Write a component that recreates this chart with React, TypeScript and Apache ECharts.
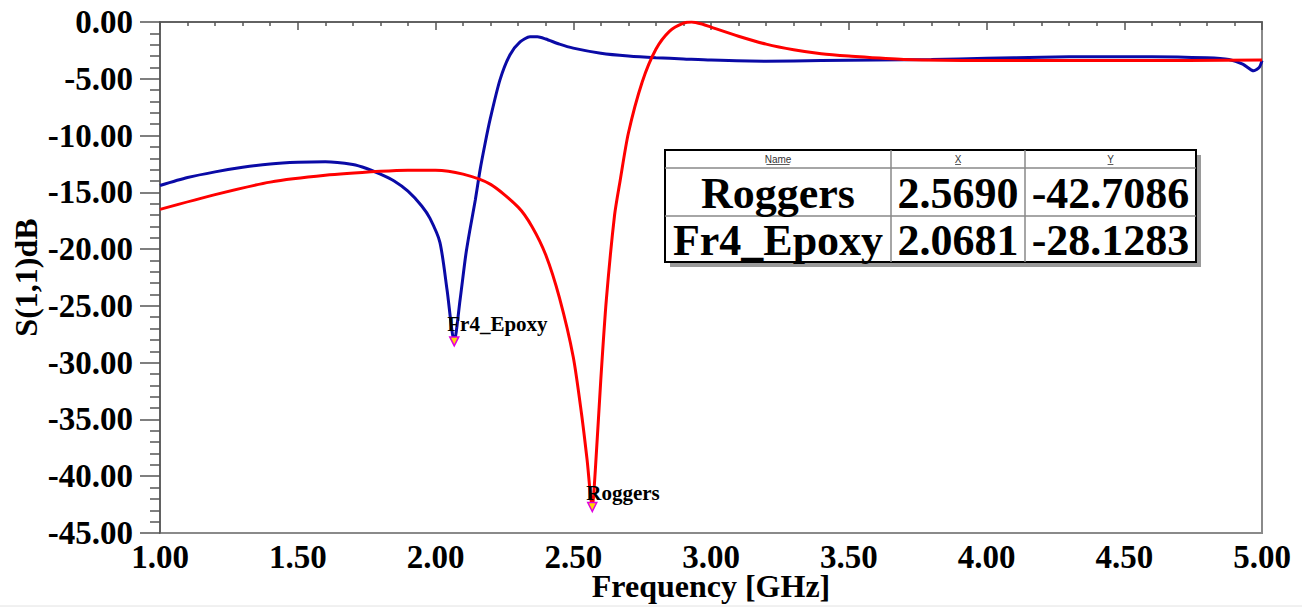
import React, { useEffect, useRef } from "react";
import * as echarts from "echarts";

// Fr4_Epoxy (blue) S(1,1) in dB vs frequency in GHz
const fr4Freq = [1.0, 1.1, 1.2, 1.3, 1.4, 1.5, 1.6, 1.7, 1.75, 1.8, 1.85, 1.9, 1.95, 1.98, 2.016, 2.042, 2.068, 2.089, 2.11, 2.125, 2.145, 2.162, 2.18, 2.198, 2.234, 2.27, 2.307, 2.343, 2.37, 2.4, 2.45, 2.5, 2.6, 2.7, 2.8, 2.9, 3.0, 3.2, 3.4, 3.6, 3.8, 4.0, 4.2, 4.4, 4.6, 4.8, 4.88, 4.93, 4.97, 4.99, 5.0];
const fr4Db = [-14.4, -13.7, -13.2, -12.8, -12.5, -12.35, -12.3, -12.55, -12.9, -13.4, -14.0, -14.9, -16.2, -17.3, -19.4, -23.6, -28.13, -24.5, -20.5, -18.3, -15.6, -13.0, -10.7, -8.6, -5.1, -2.9, -1.76, -1.3, -1.3, -1.5, -1.95, -2.3, -2.75, -3.0, -3.15, -3.25, -3.35, -3.45, -3.4, -3.35, -3.3, -3.2, -3.1, -3.05, -3.05, -3.15, -3.3, -3.7, -4.3, -4.0, -3.4];

// Roggers (red) S(1,1) in dB vs frequency in GHz
const rogFreq = [1.0, 1.2, 1.4, 1.6, 1.8, 1.9, 2.0, 2.1, 2.2, 2.3, 2.35, 2.4, 2.45, 2.5, 2.53, 2.55, 2.569, 2.58, 2.6, 2.62, 2.65, 2.67, 2.7, 2.75, 2.8, 2.85, 2.9, 2.93, 2.97, 3.0, 3.1, 3.2, 3.3, 3.4, 3.5, 3.7, 4.0, 4.5, 5.0];
const rogDb = [-16.5, -15.2, -14.1, -13.5, -13.15, -13.05, -13.05, -13.4, -14.3, -16.3, -18.0, -20.5, -24.3, -29.5, -34.5, -38.5, -42.71, -39.5, -31.5, -24.5, -17.0, -14.0, -9.8, -5.3, -2.4, -0.8, -0.1, 0.0, -0.2, -0.45, -1.25, -1.95, -2.45, -2.8, -3.0, -3.3, -3.4, -3.4, -3.35];

// Marker table
const markerNames = ["Roggers", "Fr4_Epoxy"];
const markerX = [2.569, 2.0681];
const markerY = [-42.7086, -28.1283];
const tableHeaders = ["Name", "X", "Y"];

// Axis ticks
const xMin = 1, xMax = 5, xStep = 0.5;
const yMin = -45, yMax = 0, yStep = 5;

const SERIF = "'Liberation Serif', 'Times New Roman', serif";

export default function App() {
  const ref = useRef<HTMLDivElement>(null);
  useEffect(() => {
    if (!ref.current) return;
    const chart = echarts.init(ref.current, undefined, { renderer: "svg" });

    const tx = 665, ty = 150, tw = 531, th = 112;
    const c1 = 891, c2 = 1025, hRow = 168, rRow = 216;
    const colCenters = [(tx + c1) / 2, (c1 + c2) / 2, (c2 + tx + tw) / 2];
    const rowCenters = [(hRow + rRow) / 2 + 1, (rRow + ty + th) / 2 + 1];

    const tableEls: any[] = [
      { type: "rect", shape: { x: tx + 5, y: ty + 5, width: tw, height: th }, style: { fill: "#9a9a9a" } },
      { type: "rect", shape: { x: tx, y: ty, width: tw, height: th }, style: { fill: "#fff", stroke: "#000", lineWidth: 2 } },
      { type: "line", shape: { x1: tx, y1: hRow, x2: tx + tw, y2: hRow }, style: { stroke: "#888", lineWidth: 1.5 } },
      { type: "line", shape: { x1: tx, y1: rRow, x2: tx + tw, y2: rRow }, style: { stroke: "#888", lineWidth: 1.5 } },
      { type: "line", shape: { x1: c1, y1: ty, x2: c1, y2: ty + th }, style: { stroke: "#888", lineWidth: 1.5 } },
      { type: "line", shape: { x1: c2, y1: ty, x2: c2, y2: ty + th }, style: { stroke: "#888", lineWidth: 1.5 } },
    ];
    tableHeaders.forEach((h, i) => {
      tableEls.push({
        type: "text",
        x: colCenters[i], y: (ty + hRow) / 2,
        style: { text: h, fill: "#333", font: "10px 'Liberation Sans', Arial, sans-serif", align: "center", verticalAlign: "middle" },
      });
      const w = h.length * 5.8;
      tableEls.push({ type: "line", shape: { x1: colCenters[i] - w / 2, y1: (ty + hRow) / 2 + 5.5, x2: colCenters[i] + w / 2, y2: (ty + hRow) / 2 + 5.5 }, style: { stroke: "#333", lineWidth: 0.8 } });
    });
    markerNames.forEach((n, r) => {
      const vals = [n, markerX[r].toFixed(4), markerY[r].toFixed(4)];
      vals.forEach((v, i) => {
        tableEls.push({
          type: "text",
          x: colCenters[i], y: rowCenters[r],
          style: { text: v, fill: "#000", font: `bold 44px ${SERIF}`, align: "center", verticalAlign: "middle" },
        });
      });
    });

    const mkLabel = (name: string, x: number, y: number, dx: number, dy: number) => ({
      name,
      coord: [x, y],
      symbol: "triangle",
      symbolRotate: 180,
      symbolSize: 9,
      itemStyle: { color: "#ffd700", borderColor: "#e000e0", borderWidth: 1.5 },
      label: {
        show: true,
        formatter: "{b}",
        position: "inside",
        align: "left",
        verticalAlign: "middle",
        offset: [dx, dy],
        color: "#000",
        fontFamily: SERIF,
        fontWeight: "bold",
        fontSize: 21,
      },
    });

    chart.setOption({
      animation: false,
      backgroundColor: "#fff",
      grid: {
        left: 160, right: 40, top: 22, bottom: 75,
        containLabel: false, outerBoundsMode: "none",
        show: true, borderColor: "#8a8a8a", borderWidth: 2, backgroundColor: "transparent",
      },
      xAxis: {
        type: "value", min: xMin, max: xMax, interval: xStep,
        name: "Frequency [GHz]", nameLocation: "middle", nameGap: 39, nameMoveOverlap: false,
        nameTextStyle: { fontFamily: SERIF, fontWeight: "bold", fontSize: 32, color: "#000", lineHeight: 28, verticalAlign: "top" },
        axisLine: { show: true, lineStyle: { color: "#555", width: 1.5 } },
        axisTick: { show: true, length: 8, lineStyle: { color: "#555", width: 1.5 } },
        minorTick: { show: true, splitNumber: 5, length: 4, lineStyle: { color: "#555", width: 1.5 } },
        splitLine: { show: false },
        axisLabel: { formatter: (v: number) => v.toFixed(2), fontFamily: SERIF, fontWeight: "bold", fontSize: 33, lineHeight: 28, color: "#000", margin: 10 },
      },
      yAxis: {
        type: "value", min: yMin, max: yMax, interval: yStep,
        name: "S(1,1)dB", nameLocation: "middle", nameGap: 118, nameRotate: 90, nameMoveOverlap: false,
        nameTextStyle: { fontFamily: SERIF, fontWeight: "bold", fontSize: 32, color: "#000" },
        axisLine: { show: true, lineStyle: { color: "#555", width: 1.5 } },
        axisTick: { show: true, length: 20, lineStyle: { color: "#555", width: 1.5 } },
        minorTick: { show: true, splitNumber: 5, length: 10, lineStyle: { color: "#555", width: 1.5 } },
        splitLine: { show: false },
        axisLabel: { formatter: (v: number) => v.toFixed(2), fontFamily: SERIF, fontWeight: "bold", fontSize: 33, color: "#000", margin: 27 },
      },
      series: [
        {
          type: "line", name: markerNames[1],
          data: fr4Freq.map((f, i) => [f, fr4Db[i]]),
          showSymbol: false, smooth: 0.25,
          lineStyle: { color: "#0a0aa6", width: 3 },
          markPoint: { data: [mkLabel(markerNames[1], markerX[1], markerY[1], -7, -17)] },
        },
        {
          type: "line", name: markerNames[0],
          data: rogFreq.map((f, i) => [f, rogDb[i]]),
          showSymbol: false, smooth: 0.25,
          lineStyle: { color: "#ff0000", width: 3 },
          markPoint: { data: [mkLabel(markerNames[0], markerX[0], markerY[0], -6, -14)] },
        },
      ],
      graphic: [
        { type: "line", shape: { x1: 0, y1: 606, x2: 1302, y2: 606 }, style: { stroke: "#e2e2e2", lineWidth: 1 } },
        ...tableEls,
      ],
    });
    return () => chart.dispose();
  }, []);
  return <div ref={ref} style={{ position: "fixed", left: 0, top: 0, width: 1302, height: 608 }} />;
}
